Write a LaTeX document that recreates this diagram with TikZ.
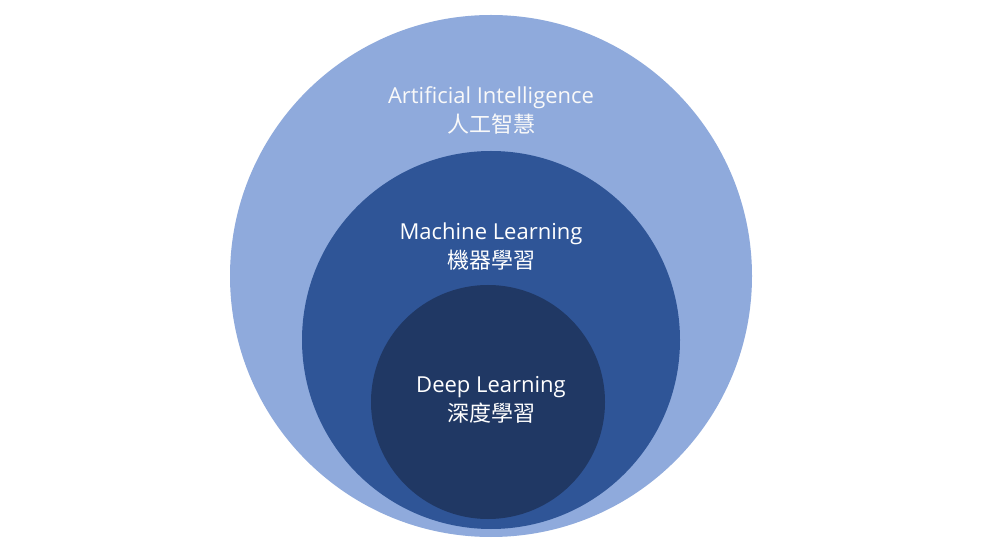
\documentclass[tikz,border=0pt]{standalone}
\usepackage{fontspec}
\setmainfont{Open Sans}
\newfontfamily\cjk{Noto Sans CJK TC}
\definecolor{aiC}{HTML}{8FAADC}
\definecolor{mlC}{HTML}{2F5597}
\definecolor{dlC}{HTML}{203864}
\begin{document}
\begin{tikzpicture}[x=1pt,y=1pt,
  ring/.style={circle,inner sep=0pt,draw=none},
  lbl/.style={align=center,font=\fontsize{22}{29}\selectfont,text=white}]
\useasboundingbox (0,0) rectangle (983,552);
\fill[white] (0,0) rectangle (983,552);
\node[ring,fill=aiC,minimum size=522pt] (ai) at (491,276) {};
\node[ring,fill=mlC,minimum size=378pt] (ml) at (491,212) {};
\node[ring,fill=dlC,minimum size=234pt] (dl) at (488,150) {};
\node[lbl,text=white!95!gray] (tai) at (491,442) {Artificial Intelligence\\{\cjk 人工智慧}};
\node[lbl] (tml) at (491,305) {Machine Learning\\{\cjk 機器學習}};
\node[lbl] (tdl) at (491,152) {Deep Learning\\{\cjk 深度學習}};
\end{tikzpicture}
\end{document}
